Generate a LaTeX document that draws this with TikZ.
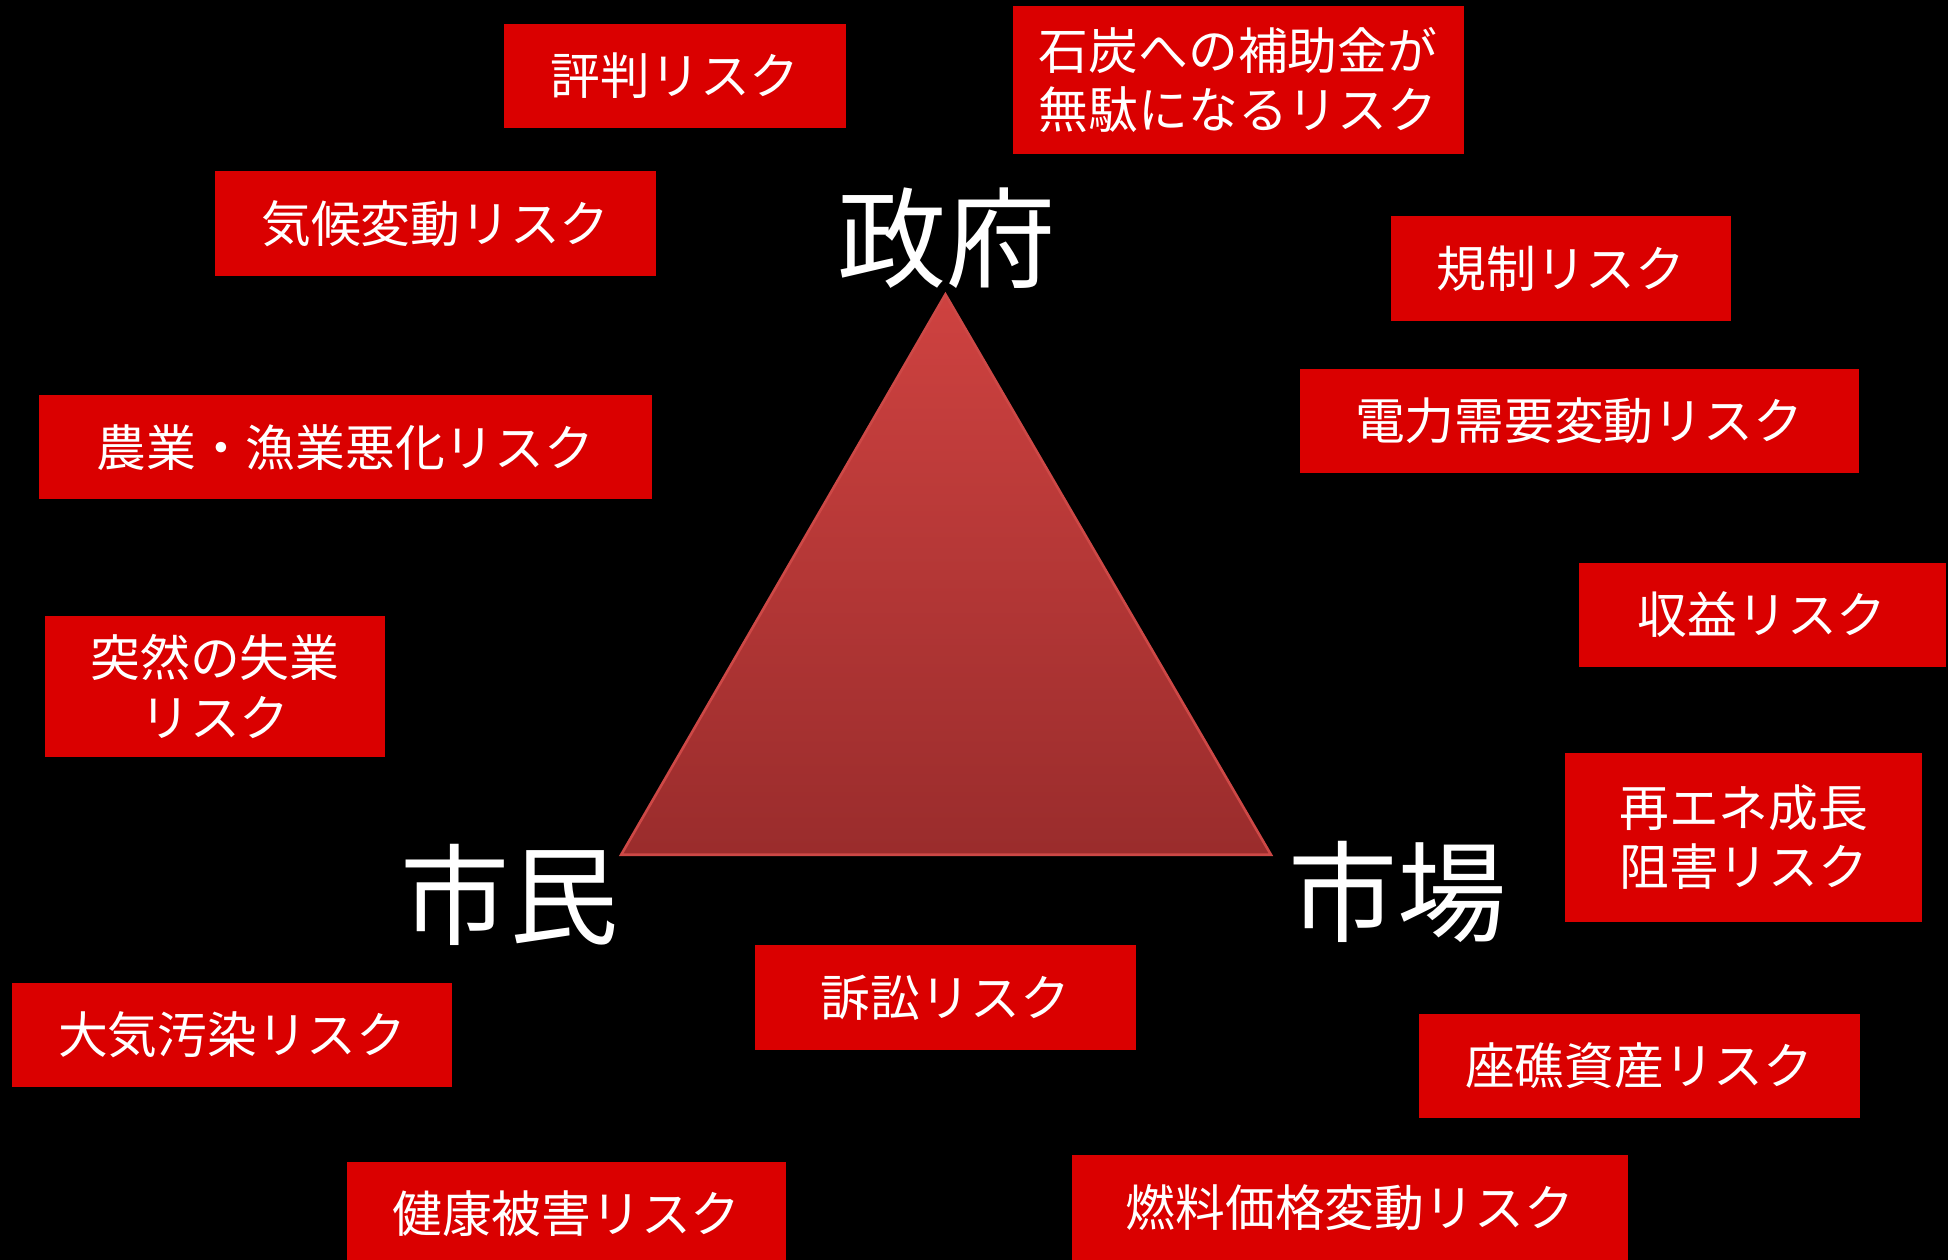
\documentclass[tikz,border=0pt]{standalone}
\usepackage{fontspec}
\setmainfont{Noto Sans CJK JP}
\usepackage{tikz}
\usetikzlibrary{positioning}
\definecolor{boxred}{RGB}{218,0,0}
\definecolor{tritop}{RGB}{206,66,64}
\definecolor{tribottom}{RGB}{154,44,44}
\definecolor{triedge}{RGB}{205,72,70}

\begin{document}
\begin{tikzpicture}

        % Setup the styles for the boxes and the corner labels
        \tikzset{risk box/.style={rectangle,
                                  fill=boxred,
                                  text=white,
                                  inner sep=0pt,
                                  outer sep=0pt,
                                  minimum height=0.84cm,
                                  align=center,
                                  font=\fontsize{11.4}{13.6}\selectfont},
                 actor/.style={text=white,
                               inner sep=0pt,
                               font=\fontsize{25}{30}\selectfont}}

        % Background
        \fill[black] (0,0) rectangle (15.68,-10.14);
        \useasboundingbox (0,0) rectangle (15.68,-10.14);

        % Draw the triangle
        \coordinate (top)   at (7.61,-2.37);
        \coordinate (left)  at (5.00,-6.88);
        \coordinate (right) at (10.23,-6.88);
        \shade[top color=tritop, bottom color=tribottom]
            (top) -- (left) -- (right) -- cycle;
        \draw[triedge, line width=0.6pt] (top) -- (left) -- (right) -- cycle;

        % Corner labels
        \node[actor] at (7.62,-1.92)  (gov)     {政府};
        \node[actor] at (4.10,-7.20)  (citizen) {市民};
        \node[actor] at (11.25,-7.18) (market)  {市場};

        % Draw the risks
        \node[risk box, minimum width=2.75cm] at (5.435,-0.61) (rep) {評判リスク};
        \node[risk box, minimum width=3.63cm, minimum height=1.19cm] at (9.965,-0.645) (coal)
            {石炭への補助金が\\無駄になるリスク};
        \node[risk box, minimum width=3.55cm] at (3.505,-1.80)  (climate) {気候変動リスク};
        \node[risk box, minimum width=2.73cm] at (12.565,-2.16) (reg)     {規制リスク};
        \node[risk box, minimum width=4.50cm] at (12.71,-3.39)  (power)   {電力需要変動リスク};
        \node[risk box, minimum width=4.94cm] at (2.78,-3.60)   (agri)    {農業・漁業悪化リスク};
        \node[risk box, minimum width=2.95cm] at (14.185,-4.95) (revenue) {収益リスク};
        \node[risk box, minimum width=2.74cm, minimum height=1.13cm] at (1.73,-5.525) (job)
            {突然の失業\\リスク};
        \node[risk box, minimum width=2.87cm, minimum height=1.36cm] at (14.035,-6.74) (renew)
            {再エネ成長\\阻害リスク};
        \node[risk box, minimum width=3.06cm] at (7.61,-8.03)   (suit)    {訴訟リスク};
        \node[risk box, minimum width=3.54cm] at (1.87,-8.33)   (air)     {大気汚染リスク};
        \node[risk box, minimum width=3.55cm] at (13.195,-8.58) (strand)  {座礁資産リスク};
        \node[risk box, minimum width=3.54cm] at (4.56,-9.77)   (health)  {健康被害リスク};
        \node[risk box, minimum width=4.47cm] at (10.865,-9.72) (fuel)    {燃料価格変動リスク};
    \end{tikzpicture}
\end{document}
